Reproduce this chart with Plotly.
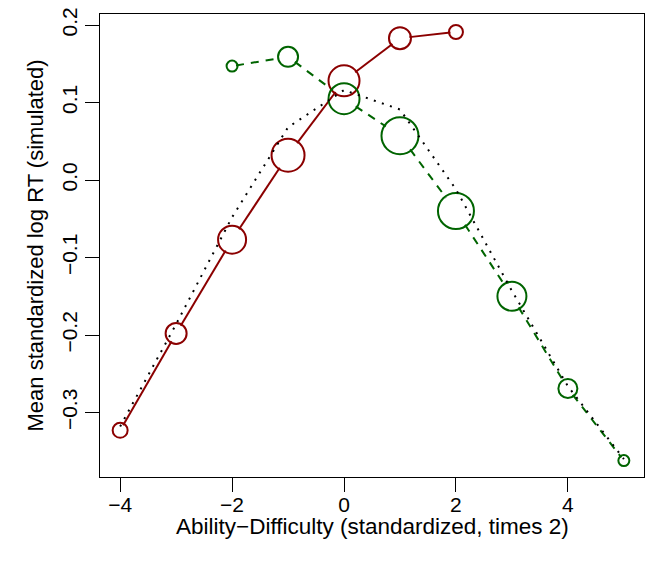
import math
import plotly.graph_objects as go

# Ability minus difficulty (standardized, times 2)
red_x = [-4, -3, -2, -1, 0, 1, 2]
red_y = [-0.323, -0.198, -0.077, 0.032, 0.128, 0.183, 0.191]
green_x = [-2, -1, 0, 1, 2, 3, 4, 5]
green_y = [0.147, 0.159, 0.105, 0.057, -0.040, -0.150, -0.269, -0.362]
all_x = [-4, -3, -2, -1, 0, 1, 2, 3, 4, 5]
all_y = [-0.318, -0.186, -0.048, 0.068, 0.116, 0.091, -0.012, -0.143, -0.266, -0.360]

# marker diameters (px)
red_size = [15, 21, 28, 33, 31, 22, 14]
green_size = [11, 20, 31, 37, 36, 29, 19, 11]

x_ticks = [-4, -2, 0, 2, 4]
y_ticks = [-0.3, -0.2, -0.1, 0.0, 0.1, 0.2]

RED = "#8B0000"
GREEN = "#006400"
FONT = "Liberation Sans, Arial, Helvetica, sans-serif"

W, H = 645, 562
M_L, M_R, M_T, M_B = 100, 1, 14, 85
XR = [-4.36, 5.36]
YR = [-0.3832, 0.2142]
plot_w = W - M_L - M_R
plot_h = H - M_T - M_B
sx = plot_w / (XR[1] - XR[0])
sy = plot_h / (YR[1] - YR[0])


def gapped(xs, ys, sizes, inset=2.5):
    """Connecting segments that stop at the circle outlines (like type='b')."""
    gx, gy = [], []
    for i in range(len(xs) - 1):
        dxp = (xs[i + 1] - xs[i]) * sx
        dyp = (ys[i + 1] - ys[i]) * sy
        L = math.hypot(dxp, dyp)
        r0 = sizes[i] / 2 + 1 - inset
        r1 = sizes[i + 1] / 2 + 1 - inset
        if L <= r0 + r1:
            continue
        t0, t1 = r0 / L, 1 - r1 / L
        gx += [xs[i] + (xs[i + 1] - xs[i]) * t0, xs[i] + (xs[i + 1] - xs[i]) * t1, None]
        gy += [ys[i] + (ys[i + 1] - ys[i]) * t0, ys[i] + (ys[i + 1] - ys[i]) * t1, None]
    return gx, gy


def rings(xs, ys, sizes, color):
    return go.Scatter(x=xs, y=ys, mode="markers",
                      marker=dict(symbol="circle", size=sizes, opacity=1,
                                  color="rgba(0,0,0,0)",
                                  line=dict(color=color, width=2)))


fig = go.Figure()

rx, ry = gapped(red_x, red_y, red_size)
fig.add_trace(go.Scatter(x=rx, y=ry, mode="lines",
                         line=dict(color=RED, width=2), hoverinfo="skip"))
fig.add_trace(rings(red_x, red_y, red_size, RED))

gx, gy = gapped(green_x, green_y, green_size)
fig.add_trace(go.Scatter(x=gx, y=gy, mode="lines",
                         line=dict(color=GREEN, width=2, dash="8px,7px"), hoverinfo="skip"))
fig.add_trace(rings(green_x, green_y, green_size, GREEN))

fig.add_trace(go.Scatter(x=all_x, y=all_y, mode="lines",
                         line=dict(color="black", width=2, dash="2px,6.5px")))

axis_common = dict(
    showgrid=False, zeroline=False, showline=True, mirror=True,
    linecolor="black", linewidth=1, ticks="outside", ticklen=14,
    tickwidth=1, tickcolor="black",
    tickfont=dict(family=FONT, size=21, color="black"),
)

fig.update_layout(
    width=W, height=H,
    margin=dict(l=M_L, r=M_R, t=M_T, b=M_B),
    paper_bgcolor="white", plot_bgcolor="white",
    showlegend=False,
    xaxis=dict(range=XR, tickvals=x_ticks, ticklabelstandoff=-5, **axis_common),
    yaxis=dict(range=YR, tickvals=y_ticks, tickformat=".1f", tickangle=-90,
               **axis_common),
    annotations=[
        dict(text="Ability\u2212Difficulty (standardized, times 2)",
             xref="paper", yref="paper", x=0.5, y=0, yshift=-49,
             xanchor="center", yanchor="middle", showarrow=False,
             font=dict(family=FONT, size=22.5, color="black")),
        dict(text="Mean standardized log RT (simulated)",
             xref="paper", yref="paper", x=0, y=0.5, xshift=-65,
             xanchor="center", yanchor="middle", textangle=-90, showarrow=False,
             font=dict(family=FONT, size=22, color="black")),
    ],
)

fig.write_html("out.html")
